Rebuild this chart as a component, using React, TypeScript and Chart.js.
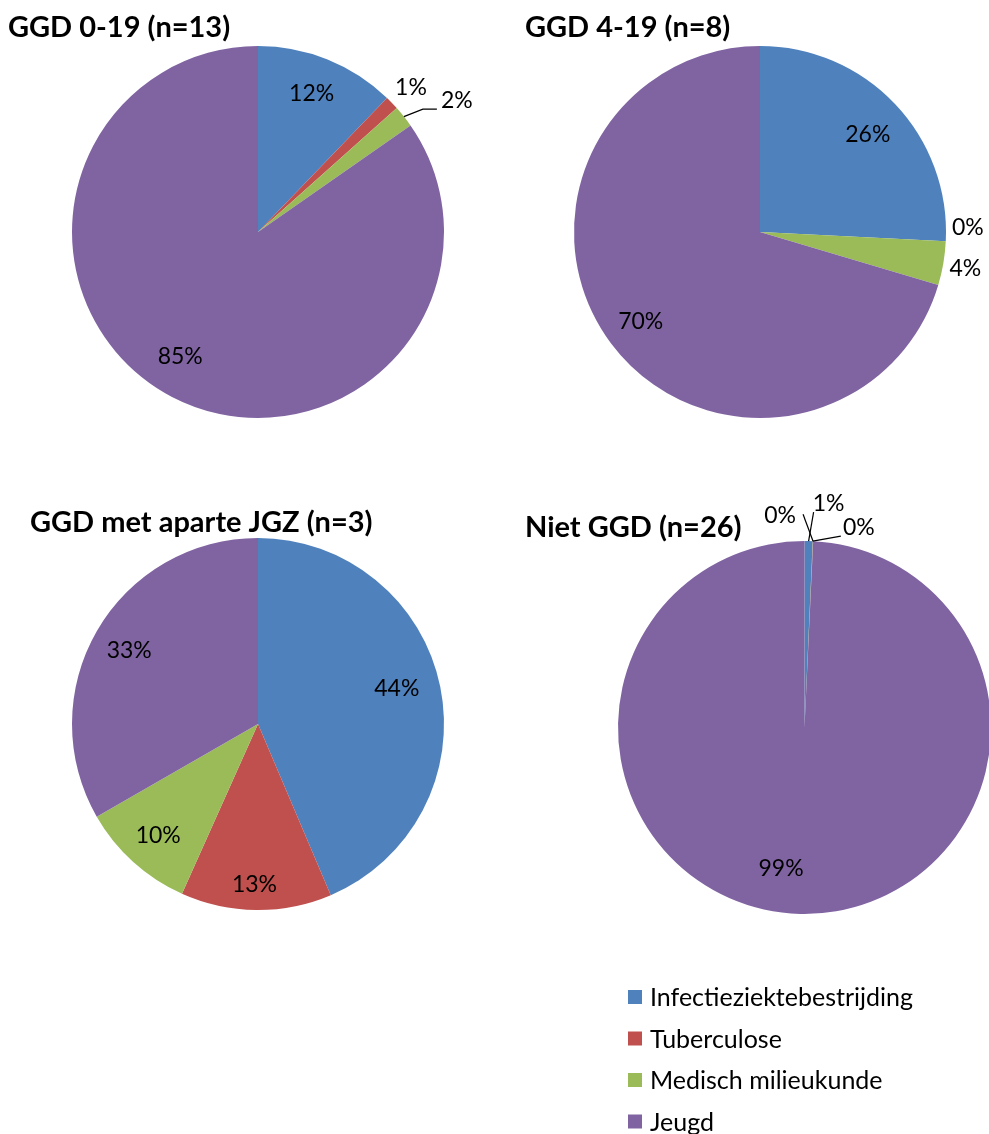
import React, { useEffect, useRef } from "react";
import { Chart, registerables } from "chart.js";

Chart.register(...registerables);

// ---- data ----
const categories = ["Infectieziektebestrijding", "Tuberculose", "Medisch milieukunde", "Jeugd"];
const sliceColors = ["#4F81BD", "#C0504D", "#9BBB59", "#8064A2"];
const chartTitles = ["GGD 0-19 (n=13)", "GGD 4-19 (n=8)", "GGD met aparte JGZ (n=3)", "Niet GGD (n=26)"];
const ggd0to19 = [12.2, 1.2, 1.9, 84.7];
const ggd4to19 = [25.8, 0.0, 3.8, 70.4];
const ggdAparteJgz = [43.6, 13.1, 10.0, 33.3];
const nietGgd = [0.7, 0.02, 0.02, 99.26];

const FONT = "Lato, Carlito, Calibri, sans-serif";

type LabelSpec = { f?: number; dx?: number; dy?: number; outside?: boolean; leader?: number[][] };

const pieLabelPlugin = {
  id: "pieLabels",
  afterDatasetsDraw(chart: any, _args: any, opts: any) {
    const meta = chart.getDatasetMeta(0);
    const data = chart.data.datasets[0].data as number[];
    const ctx = chart.ctx as CanvasRenderingContext2D;
    const specs: LabelSpec[] = opts.specs || [];
    const size = opts.size || 22;
    ctx.save();
    ctx.font = `${size}px ${FONT}`;
    ctx.fillStyle = "#000";
    ctx.strokeStyle = "#000";
    ctx.lineWidth = 1.2;
    ctx.textAlign = "center";
    ctx.textBaseline = "alphabetic";
    meta.data.forEach((arc: any, i: number) => {
      const p = arc.getProps(["x", "y", "startAngle", "endAngle", "outerRadius"], true);
      const mid = (p.startAngle + p.endAngle) / 2;
      const s = specs[i] || {};
      let lx: number, ly: number;
      if (s.outside) {
        const ex = p.x + Math.cos(mid) * p.outerRadius;
        const ey = p.y + Math.sin(mid) * p.outerRadius;
        lx = ex + (s.dx || 0);
        ly = ey + (s.dy || 0);
        if (s.leader) {
          ctx.beginPath();
          ctx.moveTo(ex, ey);
          s.leader.forEach(([ox, oy]) => ctx.lineTo(lx + ox, ly + oy));
          ctx.stroke();
        }
      } else {
        const f = s.f ?? 0.8;
        lx = p.x + Math.cos(mid) * p.outerRadius * f + (s.dx || 0);
        ly = p.y + Math.sin(mid) * p.outerRadius * f + (s.dy || 0);
      }
      ctx.fillText(`${Math.round(data[i])}%`, lx, ly + size * 0.36);
    });
    ctx.restore();
  },
};

const cornerTitlePlugin = {
  id: "cornerTitle",
  afterDraw(chart: any, _args: any, opts: any) {
    if (!opts.text) return;
    const ctx = chart.ctx as CanvasRenderingContext2D;
    ctx.save();
    ctx.font = `bold ${opts.size}px ${FONT}`;
    ctx.fillStyle = "#000";
    ctx.textAlign = "left";
    ctx.textBaseline = "alphabetic";
    ctx.fillText(opts.text, opts.x, opts.y);
    ctx.restore();
  },
};

const sideLegendPlugin = {
  id: "sideLegend",
  afterDraw(chart: any, _args: any, opts: any) {
    if (!opts.show) return;
    const ctx = chart.ctx as CanvasRenderingContext2D;
    const labels = chart.data.labels as string[];
    const colors = chart.data.datasets[0].backgroundColor as string[];
    ctx.save();
    ctx.font = `${opts.size}px ${FONT}`;
    ctx.textAlign = "left";
    ctx.textBaseline = "alphabetic";
    labels.forEach((lab, i) => {
      const cy = opts.y + i * opts.spacing;
      ctx.fillStyle = colors[i];
      ctx.fillRect(opts.x, cy - opts.box / 2, opts.box, opts.box);
      ctx.fillStyle = "#000";
      ctx.fillText(lab, opts.textX, cy + opts.size * 0.36);
    });
    ctx.restore();
  },
};

type PieSpec = {
  values: number[];
  title: string;
  left: number;
  top: number;
  w: number;
  h: number;
  padding: { left: number; top: number; right: number; bottom: number };
  titleX: number;
  titleY: number;
  labels: LabelSpec[];
  legend?: boolean;
};

const pies: PieSpec[] = [
  {
    values: ggd0to19,
    title: chartTitles[0],
    left: 0, top: 0, w: 494, h: 470,
    padding: { left: 72, top: 46, right: 50, bottom: 52 },
    titleX: 8, titleY: 37,
    labels: [
      { dx: -2, dy: -1 },
      { outside: true, dx: 19, dy: -16 },
      { outside: true, dx: 53, dy: -17, leader: [[-34, 9.5], [-20, 9.5]] },
      { dx: -9, dy: -8 },
    ],
  },
  {
    values: ggd4to19,
    title: chartTitles[1],
    left: 494, top: 0, w: 495, h: 470,
    padding: { left: 80, top: 46, right: 43, bottom: 52 },
    titleX: 31, titleY: 37,
    labels: [
      { dy: 4 },
      { outside: true, dx: 22, dy: -15 },
      { outside: true, dx: 22, dy: 4 },
      {},
    ],
  },
  {
    values: ggdAparteJgz,
    title: chartTitles[2],
    left: 0, top: 470, w: 494, h: 664,
    padding: { left: 72, top: 68, right: 50, bottom: 224 },
    titleX: 30, titleY: 62,
    labels: [
      { dx: -7, dy: -7 },
      { f: 0.86, dx: -2 },
      {},
      {},
    ],
  },
  {
    values: nietGgd,
    title: chartTitles[3],
    left: 494, top: 470, w: 510, h: 664,
    padding: { left: 124, top: 71, right: 13, bottom: 220 },
    titleX: 31, titleY: 67,
    labels: [
      { outside: true, dx: 20, dy: -38, leader: [[-15, 9]] },
      { outside: true, dx: 46, dy: -14, leader: [[-18, 9]] },
      { outside: true, dx: -33, dy: -26, leader: [[23, -1]] },
      { dx: -20, dy: -9 },
    ],
    legend: true,
  },
];

function PieCanvas({ spec }: { spec: PieSpec }) {
  const ref = useRef<HTMLCanvasElement | null>(null);
  useEffect(() => {
    if (!ref.current) return;
    const chart = new Chart(ref.current, {
      type: "pie",
      data: {
        labels: categories,
        datasets: [
          {
            data: spec.values,
            backgroundColor: sliceColors,
            borderWidth: 0,
            hoverOffset: 0,
            offset: 0,
          },
        ],
      },
      options: {
        responsive: false,
        animation: false,
        devicePixelRatio: 1,
        layout: { padding: spec.padding },
        events: [],
        plugins: {
          legend: { display: false },
          tooltip: { enabled: false },
          title: { display: false },
          pieLabels: { specs: spec.labels, size: 23 },
          cornerTitle: { text: spec.title, x: spec.titleX, y: spec.titleY, size: 29 },
          sideLegend: { show: !!spec.legend, x: 134, y: 527, spacing: 41.5, box: 14, textX: 156, size: 25 },
        } as any,
      },
      plugins: [pieLabelPlugin, cornerTitlePlugin, sideLegendPlugin],
    });
    return () => chart.destroy();
  }, [spec]);
  return (
    <canvas
      ref={ref}
      width={spec.w}
      height={spec.h}
      style={{ position: "absolute", left: spec.left, top: spec.top, width: spec.w, height: spec.h }}
    />
  );
}

export default function App() {
  return (
    <div
      style={{
        position: "absolute",
        left: 0,
        top: 0,
        width: 989,
        height: 1134,
        overflow: "hidden",
        background: "#fff",
      }}
    >
      {pies.map((p, i) => (
        <PieCanvas key={i} spec={p} />
      ))}
    </div>
  );
}
